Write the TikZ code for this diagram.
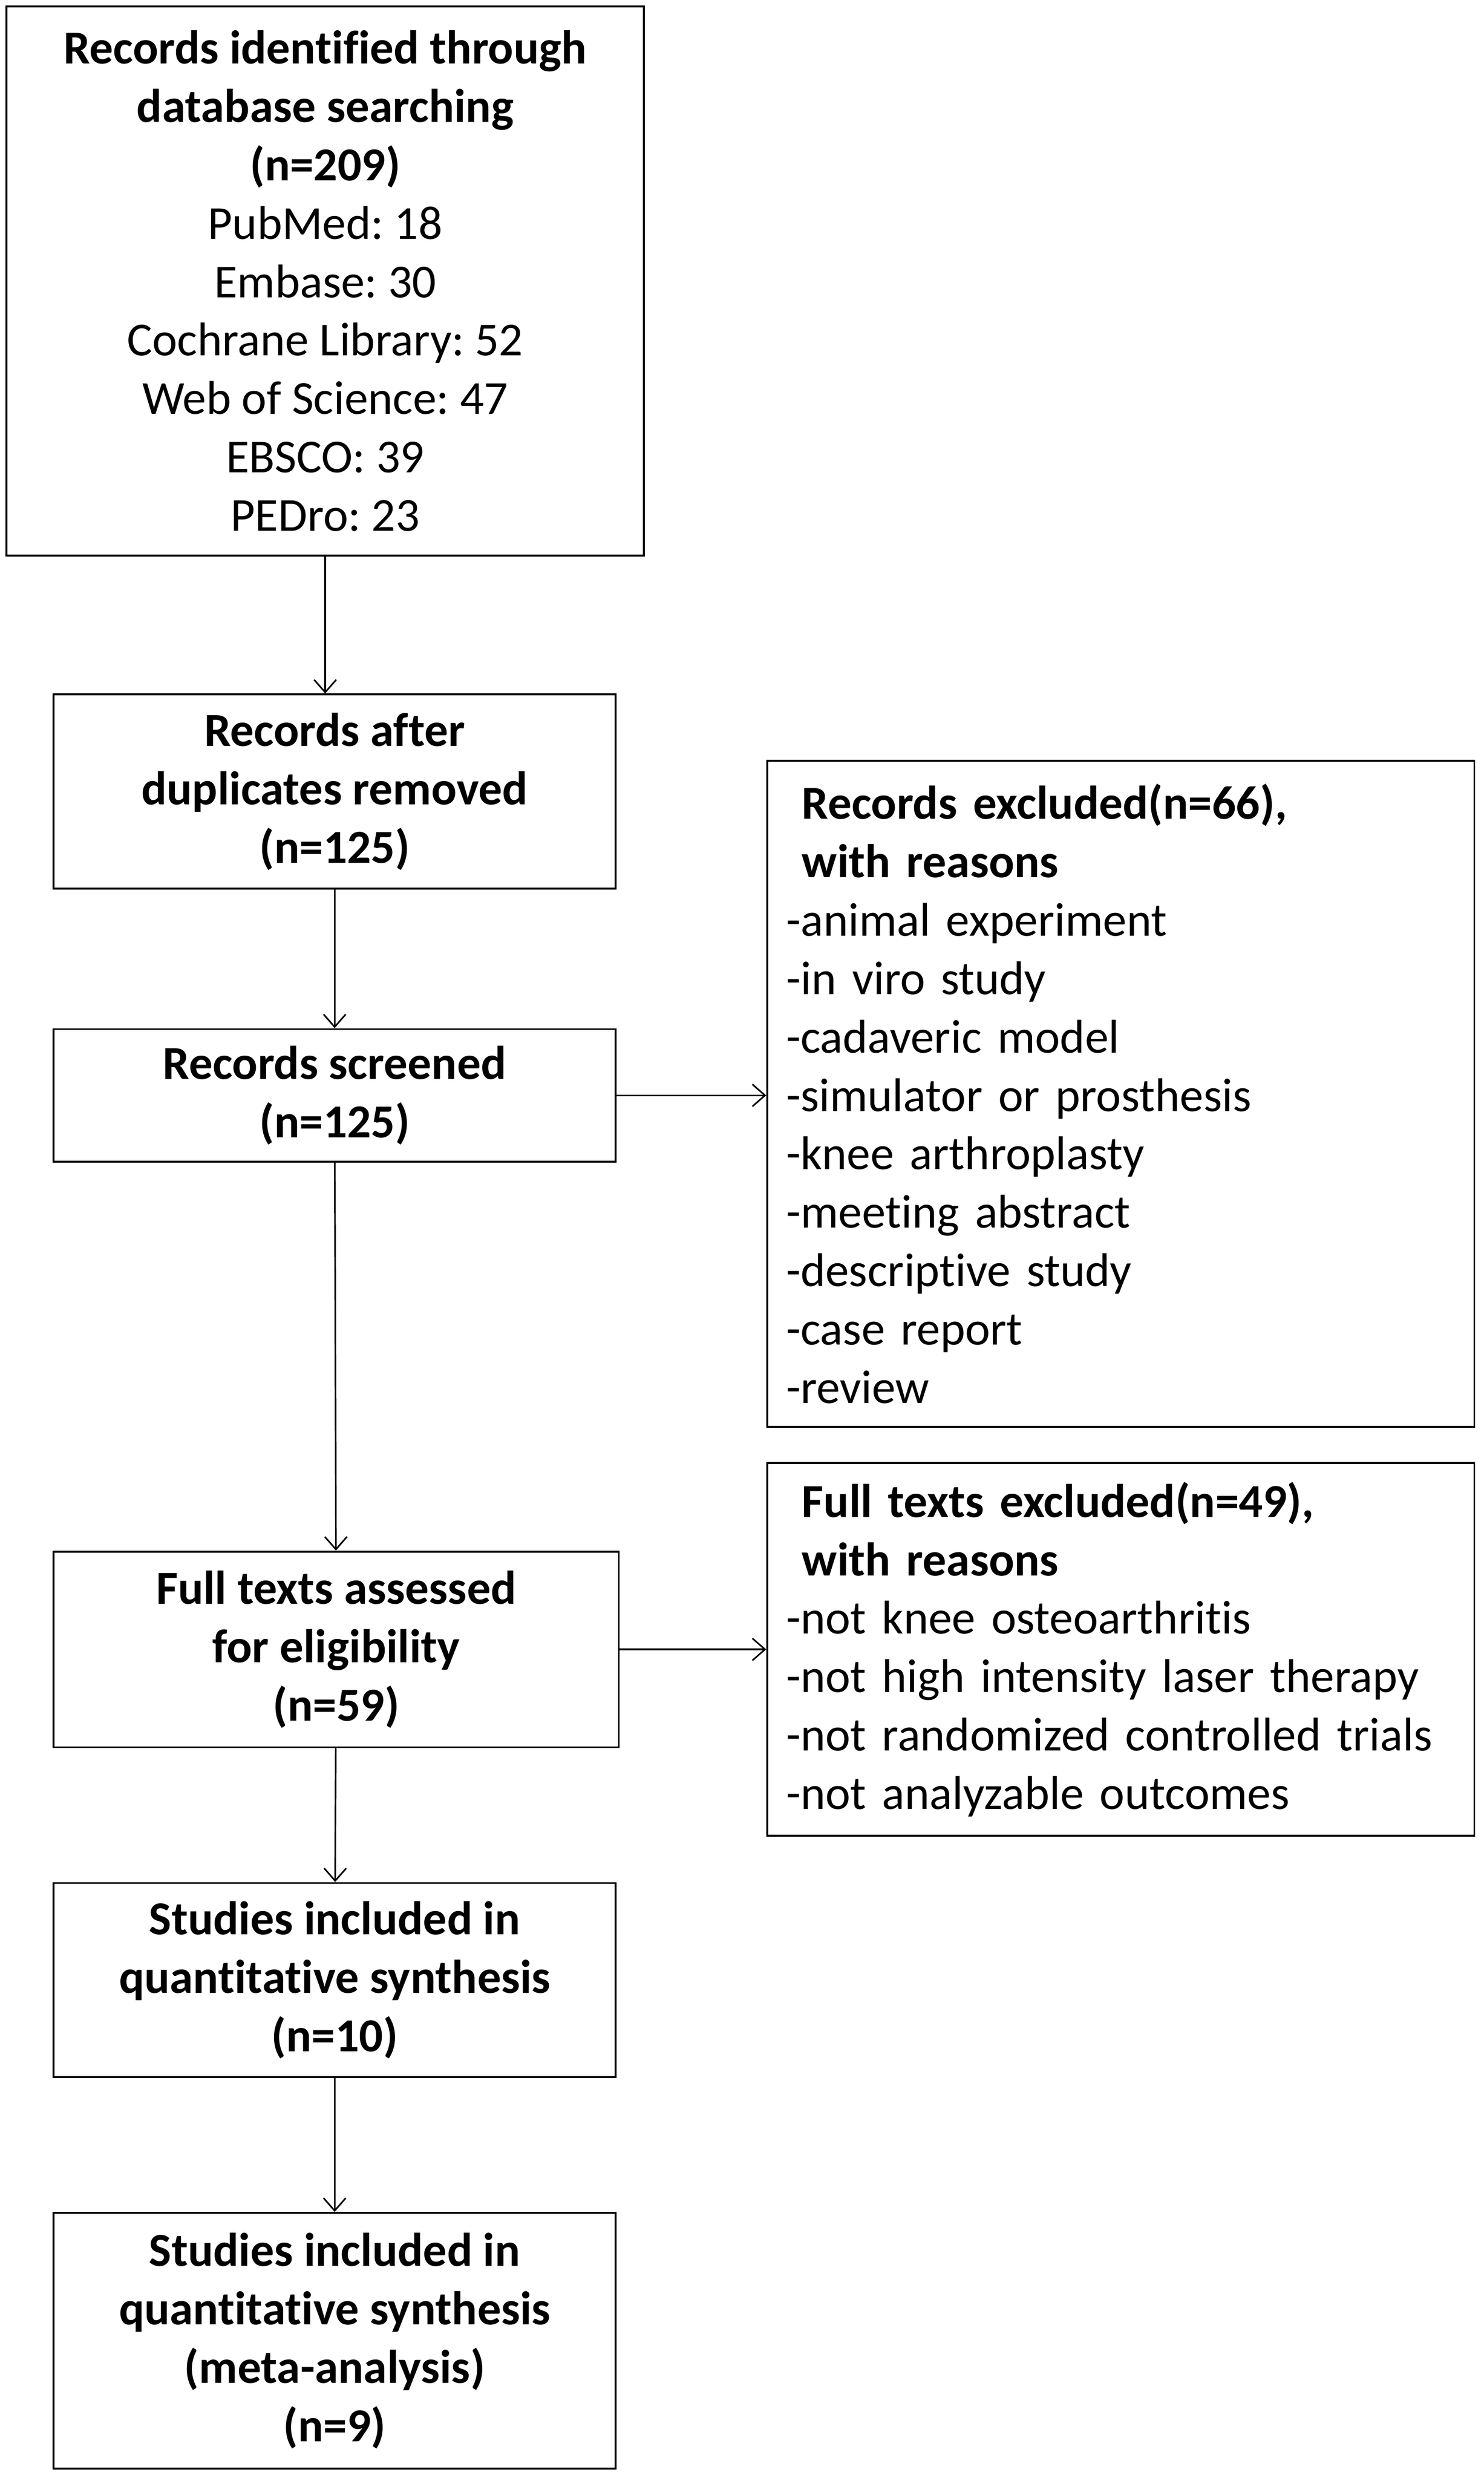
\documentclass[tikz,border=0pt]{standalone}
\usepackage{fontspec}
\setmainfont{Carlito}[Ligatures=CommonOff]
\frenchspacing
\usetikzlibrary{arrows.meta}

\tikzset{
    flowbox/.style={draw, line width=0.6pt, align=center, inner sep=0pt,
        font=\fontsize{15}{18.5}\selectfont},
    exclbox/.style={draw, line width=0.6pt, align=left, inner xsep=6pt,
        inner ysep=0pt, text width=212pt, font=\fontsize{15}{18.5}\selectfont},
    flow/.style={line width=0.5pt, -{Straight Barb[length=4pt,width=7pt]}}
}

\begin{document}
\begin{tikzpicture}[x=0.5pt,y=-0.5pt]
    \useasboundingbox (0,0) rectangle (940,1570);
    \begin{scope}[
        every node/.append style={flowbox}
    ]
        \node[minimum width=202pt, minimum height=174pt] (ident) at (206,178)
            {\textbf{Records identified through}\\ \textbf{database searching}\\ \textbf{(n=209)}\\
             PubMed: 18\\ Embase: 30\\ Cochrane Library: 52\\ Web of Science: 47\\ EBSCO: 39\\ PEDro: 23};
        \node[minimum width=178pt, minimum height=61.5pt] (dup) at (212,501.5)
            {\textbf{Records after}\\ \textbf{duplicates removed}\\ \textbf{(n=125)}};
        \node[minimum width=178pt, minimum height=42pt] (screen) at (212,694)
            {\textbf{Records screened}\\ \textbf{(n=125)}};
        \node[minimum width=179pt, minimum height=62pt] (full) at (213,1045)
            {\textbf{Full texts assessed}\\ \textbf{for eligibility}\\ \textbf{(n=59)}};
        \node[minimum width=178pt, minimum height=61.5pt] (quant) at (212,1254.5)
            {\textbf{Studies included in}\\ \textbf{quantitative synthesis}\\ \textbf{(n=10)}};
        \node[minimum width=178pt, minimum height=81pt] (meta) at (212,1483)
            {\textbf{Studies included in}\\ \textbf{quantitative synthesis}\\ \textbf{(meta-analysis)}\\ \textbf{(n=9)}};
    \end{scope}
    \node[exclbox, minimum height=211pt] (exclrec) at (710,693)
        {\ \textbf{Records excluded(n=66),}\\ \ \textbf{with reasons}\\
         -animal experiment\\ -in viro study\\ -cadaveric model\\ -simulator or prosthesis\\
         -knee arthroplasty\\ -meeting abstract\\ -descriptive study\\ -case report\\ -review};
    \node[exclbox, minimum height=118pt] (exclfull) at (710,1045)
        {\ \textbf{Full texts excluded(n=49),}\\ \ \textbf{with reasons}\\
         -not knee osteoarthritis\\ -not high intensity laser therapy\\
         -not randomized controlled trials\\ -not analyzable outcomes};
    \draw[flow] (ident.south) -- (ident.south |- dup.north);
    \draw[flow] (dup) -- (screen);
    \draw[flow] (screen) -- (full);
    \draw[flow] (full) -- (quant);
    \draw[flow] (quant) -- (meta);
    \draw[flow] (screen.east) -- (screen.east -| exclrec.west);
    \draw[flow] (full.east) -- (full.east -| exclfull.west);
\end{tikzpicture}
\end{document}
